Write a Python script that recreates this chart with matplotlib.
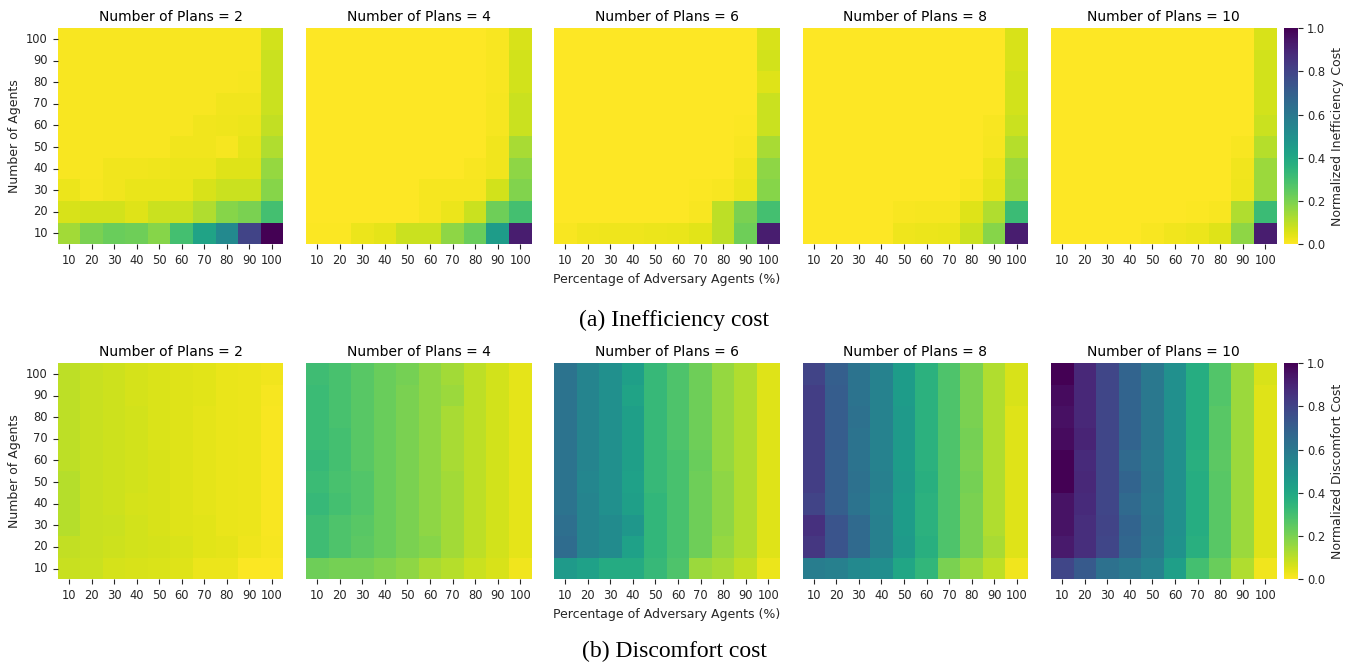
import numpy as np
import matplotlib
matplotlib.use('Agg')
import matplotlib.pyplot as plt
import seaborn as sns

plans = [2, 4, 6, 8, 10]
adversary = [10, 20, 30, 40, 50, 60, 70, 80, 90, 100]
agents = [100, 90, 80, 70, 60, 50, 40, 30, 20, 10]  # top to bottom

# Normalized inefficiency cost, rows = agents 100 -> 10, cols = adversary 10 -> 100
ineff_2 = [
    [0.01, 0.01, 0.01, 0.01, 0.01, 0.01, 0.01, 0.01, 0.01, 0.07],
    [0.01, 0.01, 0.01, 0.01, 0.01, 0.01, 0.01, 0.01, 0.01, 0.08],
    [0.01, 0.01, 0.01, 0.01, 0.01, 0.01, 0.01, 0.01, 0.015, 0.08],
    [0.01, 0.01, 0.01, 0.01, 0.01, 0.01, 0.01, 0.02, 0.02, 0.08],
    [0.01, 0.01, 0.01, 0.01, 0.01, 0.01, 0.02, 0.025, 0.03, 0.09],
    [0.01, 0.01, 0.01, 0.01, 0.01, 0.02, 0.02, 0.015, 0.04, 0.12],
    [0.01, 0.01, 0.02, 0.02, 0.025, 0.03, 0.03, 0.05, 0.05, 0.16],
    [0.03, 0.015, 0.02, 0.035, 0.035, 0.035, 0.06, 0.08, 0.08, 0.18],
    [0.06, 0.07, 0.07, 0.05, 0.08, 0.08, 0.12, 0.18, 0.2, 0.3],
    [0.14, 0.2, 0.23, 0.22, 0.18, 0.3, 0.42, 0.53, 0.8, 1.0],
]
ineff_4 = [
    [0, 0, 0, 0, 0, 0, 0, 0, 0.01, 0.06],
    [0, 0, 0, 0, 0, 0, 0, 0, 0.01, 0.07],
    [0, 0, 0, 0, 0, 0, 0, 0, 0.01, 0.07],
    [0, 0, 0, 0, 0, 0, 0, 0, 0.015, 0.08],
    [0, 0, 0, 0, 0, 0, 0, 0, 0.015, 0.08],
    [0, 0, 0, 0, 0, 0, 0, 0, 0.02, 0.13],
    [0, 0, 0, 0, 0, 0, 0, 0.01, 0.02, 0.17],
    [0, 0, 0, 0, 0, 0.015, 0.015, 0.015, 0.07, 0.19],
    [0, 0, 0, 0, 0, 0.015, 0.03, 0.08, 0.22, 0.3],
    [0.005, 0.005, 0.03, 0.04, 0.08, 0.08, 0.17, 0.23, 0.45, 0.92],
]
ineff_6 = [
    [0, 0, 0, 0, 0, 0, 0, 0, 0, 0.06],
    [0, 0, 0, 0, 0, 0, 0, 0, 0, 0.07],
    [0, 0, 0, 0, 0, 0, 0, 0, 0, 0.05],
    [0, 0, 0, 0, 0, 0, 0, 0, 0, 0.08],
    [0, 0, 0, 0, 0, 0, 0, 0, 0.005, 0.08],
    [0, 0, 0, 0, 0, 0, 0, 0, 0.01, 0.13],
    [0, 0, 0, 0, 0, 0, 0, 0, 0.02, 0.17],
    [0, 0, 0, 0, 0, 0, 0.005, 0.01, 0.03, 0.18],
    [0, 0, 0, 0, 0, 0, 0.01, 0.1, 0.2, 0.3],
    [0.01, 0.02, 0.025, 0.025, 0.03, 0.035, 0.045, 0.1, 0.22, 0.92],
]
ineff_8 = [
    [0, 0, 0, 0, 0, 0, 0, 0, 0, 0.06],
    [0, 0, 0, 0, 0, 0, 0, 0, 0, 0.06],
    [0, 0, 0, 0, 0, 0, 0, 0, 0, 0.07],
    [0, 0, 0, 0, 0, 0, 0, 0, 0, 0.07],
    [0, 0, 0, 0, 0, 0, 0, 0, 0.01, 0.08],
    [0, 0, 0, 0, 0, 0, 0, 0, 0.015, 0.11],
    [0, 0, 0, 0, 0, 0, 0, 0, 0.03, 0.15],
    [0, 0, 0, 0, 0, 0, 0, 0.01, 0.04, 0.16],
    [0, 0, 0, 0, 0.01, 0.015, 0.015, 0.05, 0.12, 0.32],
    [0, 0, 0, 0, 0.025, 0.03, 0.035, 0.08, 0.18, 0.92],
]
ineff_10 = [
    [0, 0, 0, 0, 0, 0, 0, 0, 0, 0.06],
    [0, 0, 0, 0, 0, 0, 0, 0, 0, 0.07],
    [0, 0, 0, 0, 0, 0, 0, 0, 0, 0.07],
    [0, 0, 0, 0, 0, 0, 0, 0, 0, 0.07],
    [0, 0, 0, 0, 0, 0, 0, 0, 0, 0.08],
    [0, 0, 0, 0, 0, 0, 0, 0, 0.01, 0.11],
    [0, 0, 0, 0, 0, 0, 0, 0, 0.02, 0.15],
    [0, 0, 0, 0, 0, 0, 0, 0, 0.025, 0.15],
    [0, 0, 0, 0, 0, 0, 0.005, 0.01, 0.12, 0.32],
    [0, 0, 0, 0, 0.01, 0.02, 0.03, 0.05, 0.17, 0.92],
]

# Normalized discomfort cost
disc_2 = [
    [0.1, 0.085, 0.075, 0.065, 0.055, 0.05, 0.045, 0.035, 0.03, 0.02],
    [0.1, 0.085, 0.075, 0.065, 0.055, 0.05, 0.045, 0.035, 0.03, 0.015],
    [0.1, 0.085, 0.075, 0.07, 0.055, 0.05, 0.04, 0.035, 0.03, 0.01],
    [0.1, 0.085, 0.075, 0.07, 0.055, 0.05, 0.04, 0.035, 0.03, 0.01],
    [0.1, 0.085, 0.075, 0.07, 0.06, 0.05, 0.04, 0.035, 0.03, 0.01],
    [0.11, 0.085, 0.075, 0.07, 0.06, 0.05, 0.04, 0.035, 0.03, 0.01],
    [0.11, 0.085, 0.075, 0.065, 0.06, 0.05, 0.04, 0.035, 0.03, 0.01],
    [0.11, 0.085, 0.08, 0.07, 0.06, 0.05, 0.045, 0.035, 0.03, 0.01],
    [0.09, 0.085, 0.075, 0.07, 0.065, 0.055, 0.045, 0.04, 0.025, 0.015],
    [0.085, 0.08, 0.065, 0.06, 0.055, 0.05, 0.03, 0.03, 0.005, 0.005],
]
disc_4 = [
    [0.31, 0.29, 0.26, 0.23, 0.21, 0.17, 0.14, 0.1, 0.07, 0.04],
    [0.32, 0.29, 0.26, 0.23, 0.2, 0.17, 0.15, 0.1, 0.07, 0.04],
    [0.32, 0.29, 0.26, 0.23, 0.2, 0.17, 0.13, 0.1, 0.07, 0.04],
    [0.32, 0.3, 0.26, 0.23, 0.2, 0.17, 0.13, 0.1, 0.07, 0.04],
    [0.33, 0.3, 0.26, 0.23, 0.2, 0.17, 0.13, 0.1, 0.07, 0.04],
    [0.32, 0.29, 0.27, 0.23, 0.2, 0.17, 0.14, 0.1, 0.07, 0.04],
    [0.33, 0.3, 0.27, 0.23, 0.2, 0.17, 0.14, 0.1, 0.07, 0.04],
    [0.31, 0.28, 0.26, 0.23, 0.2, 0.17, 0.14, 0.1, 0.07, 0.04],
    [0.31, 0.28, 0.25, 0.23, 0.2, 0.18, 0.14, 0.1, 0.07, 0.04],
    [0.22, 0.21, 0.21, 0.19, 0.17, 0.13, 0.11, 0.08, 0.06, 0.02],
]
disc_6 = [
    [0.62, 0.55, 0.5, 0.44, 0.33, 0.28, 0.22, 0.16, 0.12, 0.05],
    [0.62, 0.55, 0.5, 0.42, 0.33, 0.28, 0.22, 0.16, 0.12, 0.05],
    [0.62, 0.55, 0.5, 0.44, 0.33, 0.28, 0.22, 0.16, 0.12, 0.05],
    [0.62, 0.55, 0.5, 0.44, 0.33, 0.28, 0.22, 0.16, 0.12, 0.05],
    [0.62, 0.55, 0.5, 0.44, 0.33, 0.29, 0.23, 0.16, 0.12, 0.05],
    [0.62, 0.54, 0.5, 0.43, 0.33, 0.29, 0.22, 0.17, 0.12, 0.05],
    [0.62, 0.55, 0.5, 0.44, 0.34, 0.29, 0.22, 0.17, 0.12, 0.05],
    [0.64, 0.55, 0.52, 0.47, 0.34, 0.29, 0.22, 0.17, 0.12, 0.05],
    [0.65, 0.55, 0.52, 0.43, 0.34, 0.29, 0.22, 0.16, 0.12, 0.05],
    [0.46, 0.43, 0.39, 0.39, 0.33, 0.28, 0.15, 0.13, 0.09, 0.03],
]
disc_8 = [
    [0.8, 0.7, 0.62, 0.56, 0.45, 0.36, 0.28, 0.2, 0.12, 0.06],
    [0.82, 0.71, 0.62, 0.56, 0.45, 0.36, 0.28, 0.2, 0.12, 0.06],
    [0.82, 0.71, 0.63, 0.56, 0.46, 0.36, 0.28, 0.2, 0.12, 0.05],
    [0.82, 0.71, 0.62, 0.56, 0.46, 0.36, 0.28, 0.21, 0.12, 0.05],
    [0.82, 0.7, 0.62, 0.56, 0.45, 0.36, 0.28, 0.2, 0.12, 0.05],
    [0.82, 0.7, 0.63, 0.57, 0.46, 0.37, 0.28, 0.21, 0.12, 0.05],
    [0.8, 0.7, 0.62, 0.56, 0.45, 0.36, 0.28, 0.2, 0.12, 0.05],
    [0.86, 0.74, 0.66, 0.57, 0.45, 0.36, 0.28, 0.2, 0.12, 0.05],
    [0.84, 0.74, 0.66, 0.57, 0.46, 0.37, 0.28, 0.2, 0.13, 0.05],
    [0.58, 0.57, 0.53, 0.51, 0.41, 0.34, 0.2, 0.15, 0.1, 0.02],
]
disc_10 = [
    [1.0, 0.89, 0.79, 0.68, 0.6, 0.5, 0.38, 0.27, 0.15, 0.06],
    [0.97, 0.89, 0.79, 0.68, 0.6, 0.5, 0.38, 0.27, 0.15, 0.05],
    [0.96, 0.89, 0.79, 0.68, 0.6, 0.5, 0.38, 0.26, 0.15, 0.05],
    [0.97, 0.9, 0.79, 0.68, 0.6, 0.5, 0.38, 0.26, 0.15, 0.05],
    [1.0, 0.88, 0.79, 0.66, 0.59, 0.5, 0.37, 0.25, 0.15, 0.05],
    [1.0, 0.89, 0.79, 0.68, 0.6, 0.5, 0.38, 0.26, 0.15, 0.05],
    [0.95, 0.88, 0.79, 0.66, 0.59, 0.5, 0.38, 0.26, 0.15, 0.05],
    [0.95, 0.87, 0.8, 0.68, 0.6, 0.5, 0.38, 0.26, 0.15, 0.05],
    [0.93, 0.87, 0.79, 0.67, 0.59, 0.49, 0.37, 0.26, 0.15, 0.05],
    [0.79, 0.72, 0.63, 0.6, 0.56, 0.44, 0.3, 0.23, 0.12, 0.02],
]

ineff = [ineff_2, ineff_4, ineff_6, ineff_8, ineff_10]
disc = [disc_2, disc_4, disc_6, disc_8, disc_10]

W, H = 1348, 664
fig = plt.figure(figsize=(W / 100, H / 100), dpi=100)

lefts = [57.7, 306, 554, 802.5, 1051]
aw, ah = 225.5, 216
tops = [28.3, 363.3]

def draw_row(data, top, cbar_label):
    for k, d in enumerate(data):
        ax = fig.add_axes([lefts[k] / W, 1 - (top + ah) / H, aw / W, ah / H])
        sns.heatmap(np.array(d), ax=ax, cmap='viridis_r', vmin=0, vmax=1,
                    cbar=False, xticklabels=adversary, yticklabels=agents)
        ax.set_title('Number of Plans = %d' % plans[k], fontsize=10, pad=5)
        ax.tick_params(labelsize=8.3, colors='#262626')
        ax.tick_params(axis='x', rotation=0)
        ax.tick_params(axis='y', rotation=0)
        if k == 0:
            ax.set_ylabel('Number of Agents', fontsize=9, color='#262626')
        else:
            ax.set_yticks([])
        if k == 2:
            ax.set_xlabel('Percentage of Adversary Agents (%)', fontsize=9,
                          color='#262626')
    cax = fig.add_axes([1283.5 / W, 1 - (top + ah) / H, 14 / W, ah / H])
    sm = plt.cm.ScalarMappable(cmap='viridis_r', norm=plt.Normalize(0, 1))
    cb = fig.colorbar(sm, cax=cax)
    cb.outline.set_linewidth(0)
    cb.set_ticks([0, 0.2, 0.4, 0.6, 0.8, 1.0])
    cb.ax.tick_params(labelsize=8.3, colors='#262626')
    cb.set_label(cbar_label, fontsize=9, color='#262626')

draw_row(ineff, tops[0], 'Normalized Inefficiency Cost')
draw_row(disc, tops[1], 'Normalized Discomfort Cost')

fig.text(674 / W, 1 - 320 / H, '(a) Inefficiency cost', ha='center', va='center',
         fontsize=17, family='Liberation Serif')
fig.text(674 / W, 1 - 651 / H, '(b) Discomfort cost', ha='center', va='center',
         fontsize=17, family='Liberation Serif')

fig.savefig('out.png', dpi=100)
